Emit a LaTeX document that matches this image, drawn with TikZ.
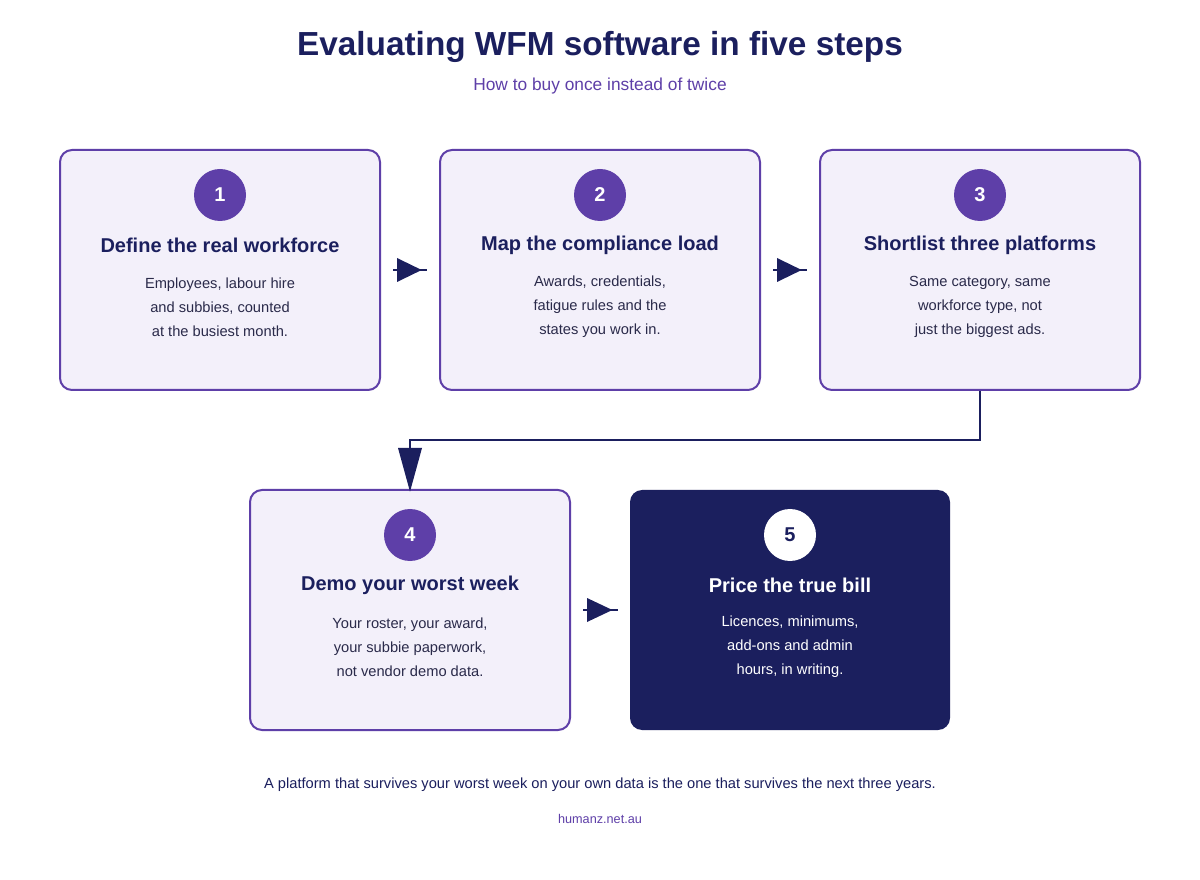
\documentclass[tikz,border=0pt]{standalone}
\usepackage{fontspec}
\setmainfont{Liberation Sans}
\definecolor{pur}{HTML}{5E3FA8}
\definecolor{navy}{HTML}{1B1F5E}
\definecolor{pale}{HTML}{F3F0FA}
\definecolor{bodyc}{HTML}{2A2A4A}
\begin{document}
\begin{tikzpicture}[x=0.75pt,y=-0.75pt,
 box/.style={draw=pur,line width=1.5pt,fill=pale,rounded corners=9pt,minimum width=240pt,minimum height=180pt,inner sep=0pt},
 dbox/.style={fill=navy,rounded corners=9pt,minimum width=240pt,minimum height=180pt,inner sep=0pt},
 num/.style={circle,fill=pur,minimum size=39pt,inner sep=0pt,text=white,font=\fontsize{15}{18}\selectfont\bfseries},
 ttl/.style={text=navy,font=\fontsize{15}{18}\selectfont\bfseries},
 txt/.style={text=bodyc,align=center,font=\fontsize{11}{18}\selectfont},
 con/.style={draw=navy,line width=2.2pt},
 tip/.style={fill=navy}]
\useasboundingbox (0,0) rectangle (1200,880);
\fill[white] (0,0) rectangle (1200,880);
\node[text=navy,font=\fontsize{25}{30}\selectfont\bfseries] (t) at (600,47) {Evaluating WFM software in five steps};
\node[text=pur,font=\fontsize{13}{16}\selectfont] (s) at (600,86) {How to buy once instead of twice};
% boxes
\node[box] (b1) at (220,270) {};
\node[box] (b2) at (600,270) {};
\node[box] (b3) at (980,270) {};
\node[box] (b4) at (410,610) {};
\node[dbox] (b5) at (790,610) {};
\foreach \n/\x/\y/\t/\a/\b/\c in {
 1/220/150/Define the real workforce/{Employees, labour hire}/{and subbies, counted}/{at the busiest month.},
 2/600/150/Map the compliance load/{Awards, credentials,}/{fatigue rules and the}/{states you work in.},
 3/980/150/Shortlist three platforms/{Same category, same}/{workforce type, not}/{just the biggest ads.},
 4/410/490/Demo your worst week/{Your roster, your award,}/{your subbie paperwork,}/{not vendor demo data.}}{
 \node[num] (n\n) at (\x,\y+45) {\n};
 \node[ttl] (h\n) at (\x,\y+95) {\t};
 \node[txt] (p\n) at (\x,\y+157) {\a\\\b\\\c};
}
\node[num,fill=white,text=navy] (n5) at (790,535) {5};
\node[ttl,text=white] (h5) at (790,585) {Price the true bill};
\node[txt,text=white] (p5) at (790,647) {Licences, minimums,\\add-ons and admin\\hours, in writing.};
% arrows
\foreach \a/\b/\y in {b1/b2/270,b2/b3/270,b4/b5/610}{
 \coordinate (s\a) at ([xshift=9pt]\a.east|-0,\y);
 \coordinate (e\a) at ([xshift=-9pt]\b.west|-0,\y);
 \draw[con] (s\a) -- (e\a);
 \fill[tip] ([xshift=3pt,yshift=9pt]s\a) -- ([xshift=-4pt]e\a) -- ([xshift=3pt,yshift=-9pt]s\a) -- cycle;
}
\coordinate (k1) at (980,440);
\coordinate (k2) at (410,440);
\coordinate (k3) at (410,448);
\draw[con] (b3.south) -- (k1) -- (k2) -- (k3);
\fill[tip] ([xshift=-9pt]k3) -- ([yshift=-2pt]b4.north) -- ([xshift=9pt]k3) -- cycle;
\node[text=navy,font=\fontsize{11}{14}\selectfont] (f) at (600,785) {A platform that survives your worst week on your own data is the one that survives the next three years.};
\node[text=pur,font=\fontsize{9.5}{12}\selectfont] (u) at (600,819) {humanz.net.au};
\end{tikzpicture}
\end{document}
